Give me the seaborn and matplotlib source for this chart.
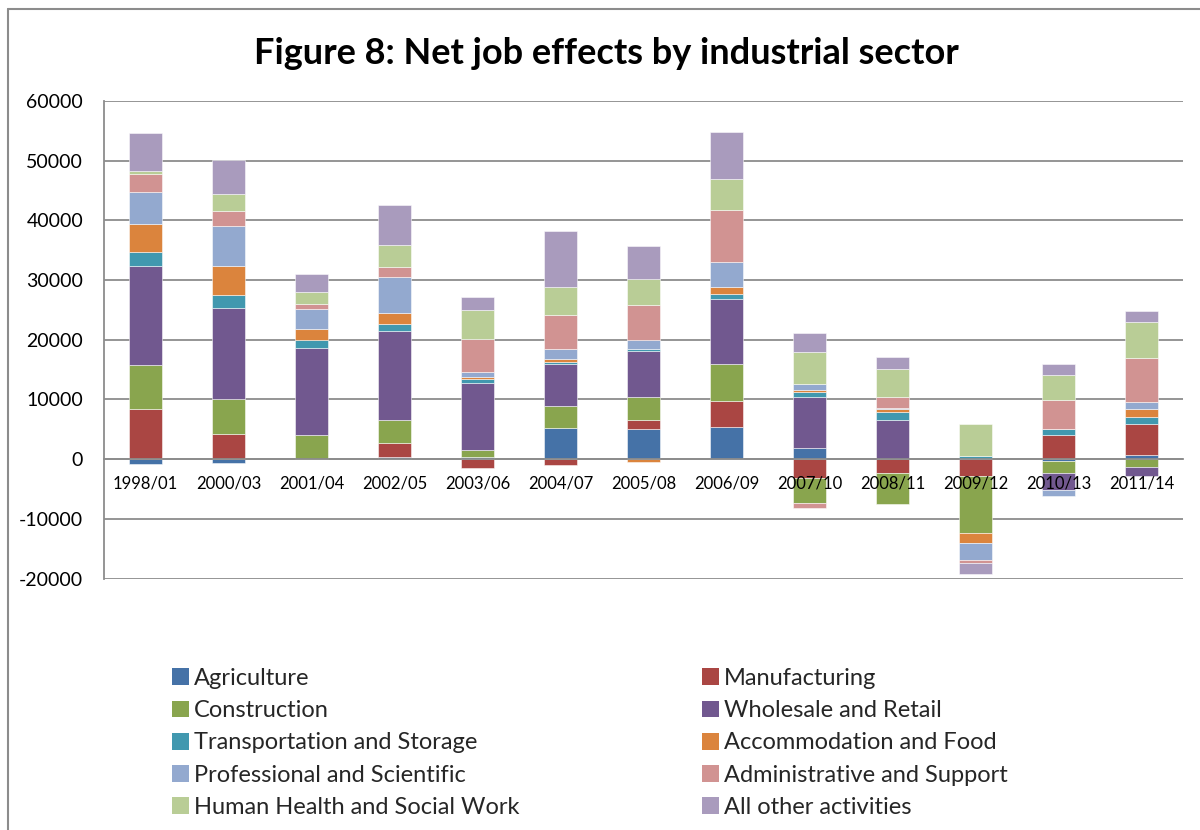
import numpy as np
import pandas as pd
import matplotlib
matplotlib.use("Agg")
import matplotlib.pyplot as plt
from matplotlib.patches import Patch
from matplotlib.lines import Line2D
import seaborn as sns

# ---- data -------------------------------------------------------------
periods = ["1998/01", "2000/03", "2001/04", "2002/05", "2003/06", "2004/07",
           "2005/08", "2006/09", "2007/10", "2008/11", "2009/12", "2010/13",
           "2011/14"]

sectors = ["Agriculture", "Manufacturing", "Construction", "Wholesale and Retail",
           "Transportation and Storage", "Accommodation and Food",
           "Professional and Scientific", "Administrative and Support",
           "Human Health and Social Work", "All other activities"]

agriculture    = [-900, -600, 100, 300, 400, 5200, 5100, 5300, 1900, 100, 0, -300, 700]
manufacturing  = [8400, 4200, 0, 2400, -1500, -1000, 1400, 4500, -3100, -2400, -2900, 4000, 5200]
construction   = [7300, 5900, 4000, 3900, 1200, 3700, 3900, 6100, -4300, -5200, -9500, -2000, -1300]
wholesale      = [16700, 15200, 14600, 14900, 11100, 7100, 7700, 11000, 8500, 6400, 0, -2800, -1600]
transportation = [2300, 2200, 1200, 1200, 800, 300, 300, 700, 800, 1400, 600, 1100, 1200]
accommodation  = [4700, 4900, 1900, 1700, 300, 500, -400, 1300, 300, 500, -1600, 0, 1300]
professional   = [5300, 6700, 3400, 6100, 800, 1700, 1600, 4200, 1100, 200, -2900, -1000, 1200]
administrative = [3000, 2500, 800, 1700, 5600, 5600, 5800, 8700, -800, 1800, -500, 4800, 7400]
health         = [600, 2800, 2000, 3600, 4800, 4800, 4400, 5100, 5300, 4700, 5300, 4200, 5900]
other          = [6300, 5700, 3000, 6700, 2100, 9400, 5500, 7900, 3300, 2000, -1900, 1900, 1900]

y_ticks = [-20000, -10000, 0, 10000, 20000, 30000, 40000, 50000, 60000]

colors = ["#4572A7", "#AA4643", "#89A54E", "#71588F", "#4198AF",
          "#DB843D", "#93A9CF", "#D19392", "#B9CD96", "#A99BBD"]

series = [agriculture, manufacturing, construction, wholesale, transportation,
          accommodation, professional, administrative, health, other]

# ---- style ------------------------------------------------------------
sns.set_style("white")
plt.rcParams["font.family"] = ["Lato", "DejaVu Sans"]
grey = "#8c8c8c"

fig = plt.figure(figsize=(12, 8.3), dpi=100)
ax = fig.add_axes([104 / 1200, 1 - 578.5 / 830, 1079 / 1200, 477.5 / 830])

# ---- stacked bars: positives stack upward, negatives downward ----------
pos_base = np.zeros(len(periods))
neg_base = np.zeros(len(periods))
for name, vals, col in zip(sectors, series, colors):
    v = np.array(vals, dtype=float)
    bottom = np.where(v >= 0, pos_base, neg_base)
    df = pd.DataFrame({"period": periods, "jobs": v})
    sns.barplot(data=df, x="period", y="jobs", order=periods, bottom=bottom,
                color=col, saturation=1, width=0.4, errorbar=None,
                edgecolor=(1, 1, 1, 0.6), linewidth=0.6, ax=ax)
    pos_base = pos_base + np.where(v > 0, v, 0)
    neg_base = neg_base + np.where(v < 0, v, 0)

# ---- axes -------------------------------------------------------------
ax.set_xlim(-0.5, len(periods) - 0.5)
ax.set_ylim(-20000, 60000)
ax.set_yticks(y_ticks)
ax.set_yticklabels([str(t) for t in y_ticks])
ax.set_xlabel("")
ax.set_ylabel("")

ax.yaxis.grid(True, color=grey, linewidth=1.3)
ax.xaxis.grid(False)
# gridlines behind the bars, category labels on top of them
ax.yaxis.set_zorder(0.5)
ax.xaxis.set_zorder(5)

for s in ["top", "right"]:
    ax.spines[s].set_visible(False)
ax.spines["left"].set_color(grey)
ax.spines["left"].set_linewidth(1.3)
ax.spines["bottom"].set_position(("data", 0))
ax.spines["bottom"].set_color(grey)
ax.spines["bottom"].set_linewidth(1.3)
ax.spines["bottom"].set_zorder(5)

ax.tick_params(axis="y", which="major", length=5, width=1.2, color=grey,
               pad=10, labelsize=14, labelcolor="black")
ax.tick_params(axis="x", which="major", length=0, pad=12, labelsize=12,
               labelcolor="black")
ax.set_xticks(np.arange(-0.5, len(periods), 1.0), minor=True)
ax.tick_params(axis="x", which="minor", length=4, width=1.2, color=grey,
               direction="out")

# ---- title ------------------------------------------------------------
fig.text(606 / 1200, 1 - 54 / 830, "Figure 8: Net job effects by industrial sector",
         ha="center", va="center", fontsize=26, fontweight="bold", color="black")

# ---- legend (two columns, row-major order) ----------------------------
handles = [Patch(facecolor=c, edgecolor="none", label=n) for n, c in zip(sectors, colors)]
leg_kw = dict(loc="upper left", frameon=False, fontsize=17, borderpad=0,
              borderaxespad=0, handlelength=0.72, handleheight=0.72,
              handletextpad=0.2, labelspacing=0.475)
leg1 = fig.legend(handles=handles[0::2], bbox_to_anchor=(172 / 1200, 1 - 668 / 830), **leg_kw)
leg2 = fig.legend(handles=handles[1::2], bbox_to_anchor=(702 / 1200, 1 - 668 / 830), **leg_kw)

# ---- chart frame ------------------------------------------------------
fig.add_artist(Line2D([8 / 1200, 8 / 1200], [0, 1 - 9 / 830], transform=fig.transFigure,
                      color=grey, linewidth=1.5))
fig.add_artist(Line2D([8 / 1200, 1], [1 - 9 / 830, 1 - 9 / 830], transform=fig.transFigure,
                      color=grey, linewidth=1.5))

fig.savefig("out.png", dpi=100, facecolor="white")
